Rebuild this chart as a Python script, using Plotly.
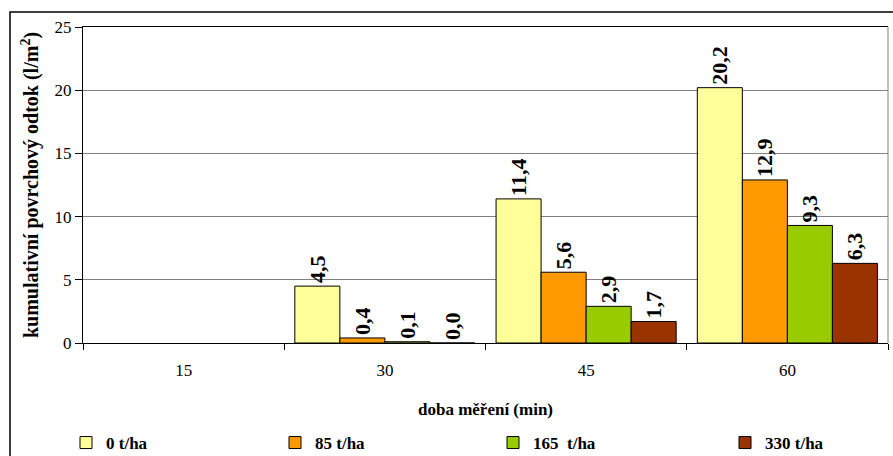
import plotly.graph_objects as go

# Measurement times (min) and cumulative surface runoff (l/m2) per application rate
times = ["15", "30", "45", "60"]
series_names = ["0 t/ha", "85 t/ha", "165  t/ha", "330 t/ha"]
runoff_0 = [None, 4.5, 11.4, 20.2]
runoff_85 = [None, 0.4, 5.6, 12.9]
runoff_165 = [None, 0.1, 2.9, 9.3]
runoff_330 = [None, 0.0, 1.7, 6.3]
colors = ["#FFFF99", "#FF9900", "#99CC00", "#993300"]

y_ticks = [0, 5, 10, 15, 20, 25]

FONT = "Times New Roman, Liberation Serif, serif"

# plot area in pixels
W, H = 893, 456
L, R, T, B = 83, 5, 27, 113
PW, PH = W - L - R, H - T - B


def px_x(x):
    return (x - L) / PW


def px_y(y):
    return (H - B - y) / PH


def fmt(v):
    return "" if v is None else f"{v:.1f}".replace(".", ",")


legend_ids = ["legend", "legend2", "legend3", "legend4"]
legend_left = [66, 275, 493, 725]

fig = go.Figure()
for name, vals, col, lid in zip(series_names,
                                [runoff_0, runoff_85, runoff_165, runoff_330],
                                colors, legend_ids):
    fig.add_trace(go.Bar(
        x=times, y=vals, name=name, legend=lid,
        marker=dict(color=col, line=dict(color="black", width=1)),
        text=[fmt(v) for v in vals],
        textposition="outside",
        textangle=-90,
        constraintext="none",
        cliponaxis=False,
        textfont=dict(family=FONT, size=22, color="black", weight="bold"),
    ))

legend_style = dict(
    orientation="h", yanchor="middle", xanchor="left",
    font=dict(family=FONT, size=17, color="black", weight="bold"),
    itemwidth=30, bgcolor="rgba(0,0,0,0)",
)
legend_layout = {}
for lid, lx in zip(legend_ids, legend_left):
    legend_layout[lid] = dict(legend_style, x=px_x(lx), y=px_y(443))

fig.update_layout(
    width=W, height=H,
    margin=dict(l=L, r=R, t=T, b=B, autoexpand=False),
    paper_bgcolor="white", plot_bgcolor="white",
    barmode="group", bargap=0.105, bargroupgap=0,
    font=dict(family=FONT, color="black"),
    showlegend=True,
    **legend_layout,
    xaxis=dict(
        type="category", tickson="boundaries",
        showline=True, linecolor="black", linewidth=1, mirror=True,
        ticks="outside", ticklen=6, tickcolor="black",
        ticklabelstandoff=12,
        showgrid=False,
        tickfont=dict(family=FONT, size=17, color="black"),
        title=dict(text="<b>doba měření (min)</b>",
                   font=dict(family=FONT, size=17, color="black"), standoff=23),
    ),
    yaxis=dict(
        range=[0, 25], tickvals=y_ticks,
        showline=True, linecolor="black", linewidth=1,
        ticks="outside", ticklen=7, tickcolor="black",
        showgrid=True, gridcolor="#808080", gridwidth=1,
        zeroline=False,
        tickfont=dict(family=FONT, size=17, color="black"),
        title=dict(text="<b>kumulativní povrchový odtok (l/m<sup>2</sup>)</b>",
                   font=dict(family=FONT, size=20, color="black"), standoff=10),
    ),
    shapes=[
        # right edge of the plot area
        dict(type="line", xref="paper", yref="paper", x0=1, x1=1, y0=0, y1=1,
             line=dict(color="#808080", width=1)),
        # outer chart frame
        dict(type="rect", xref="paper", yref="paper",
             x0=px_x(10), x1=1.03, y0=-0.6, y1=px_y(12),
             line=dict(color="black", width=1.5), fillcolor="rgba(0,0,0,0)",
             layer="below"),
    ],
)

fig.write_html("out.html")
